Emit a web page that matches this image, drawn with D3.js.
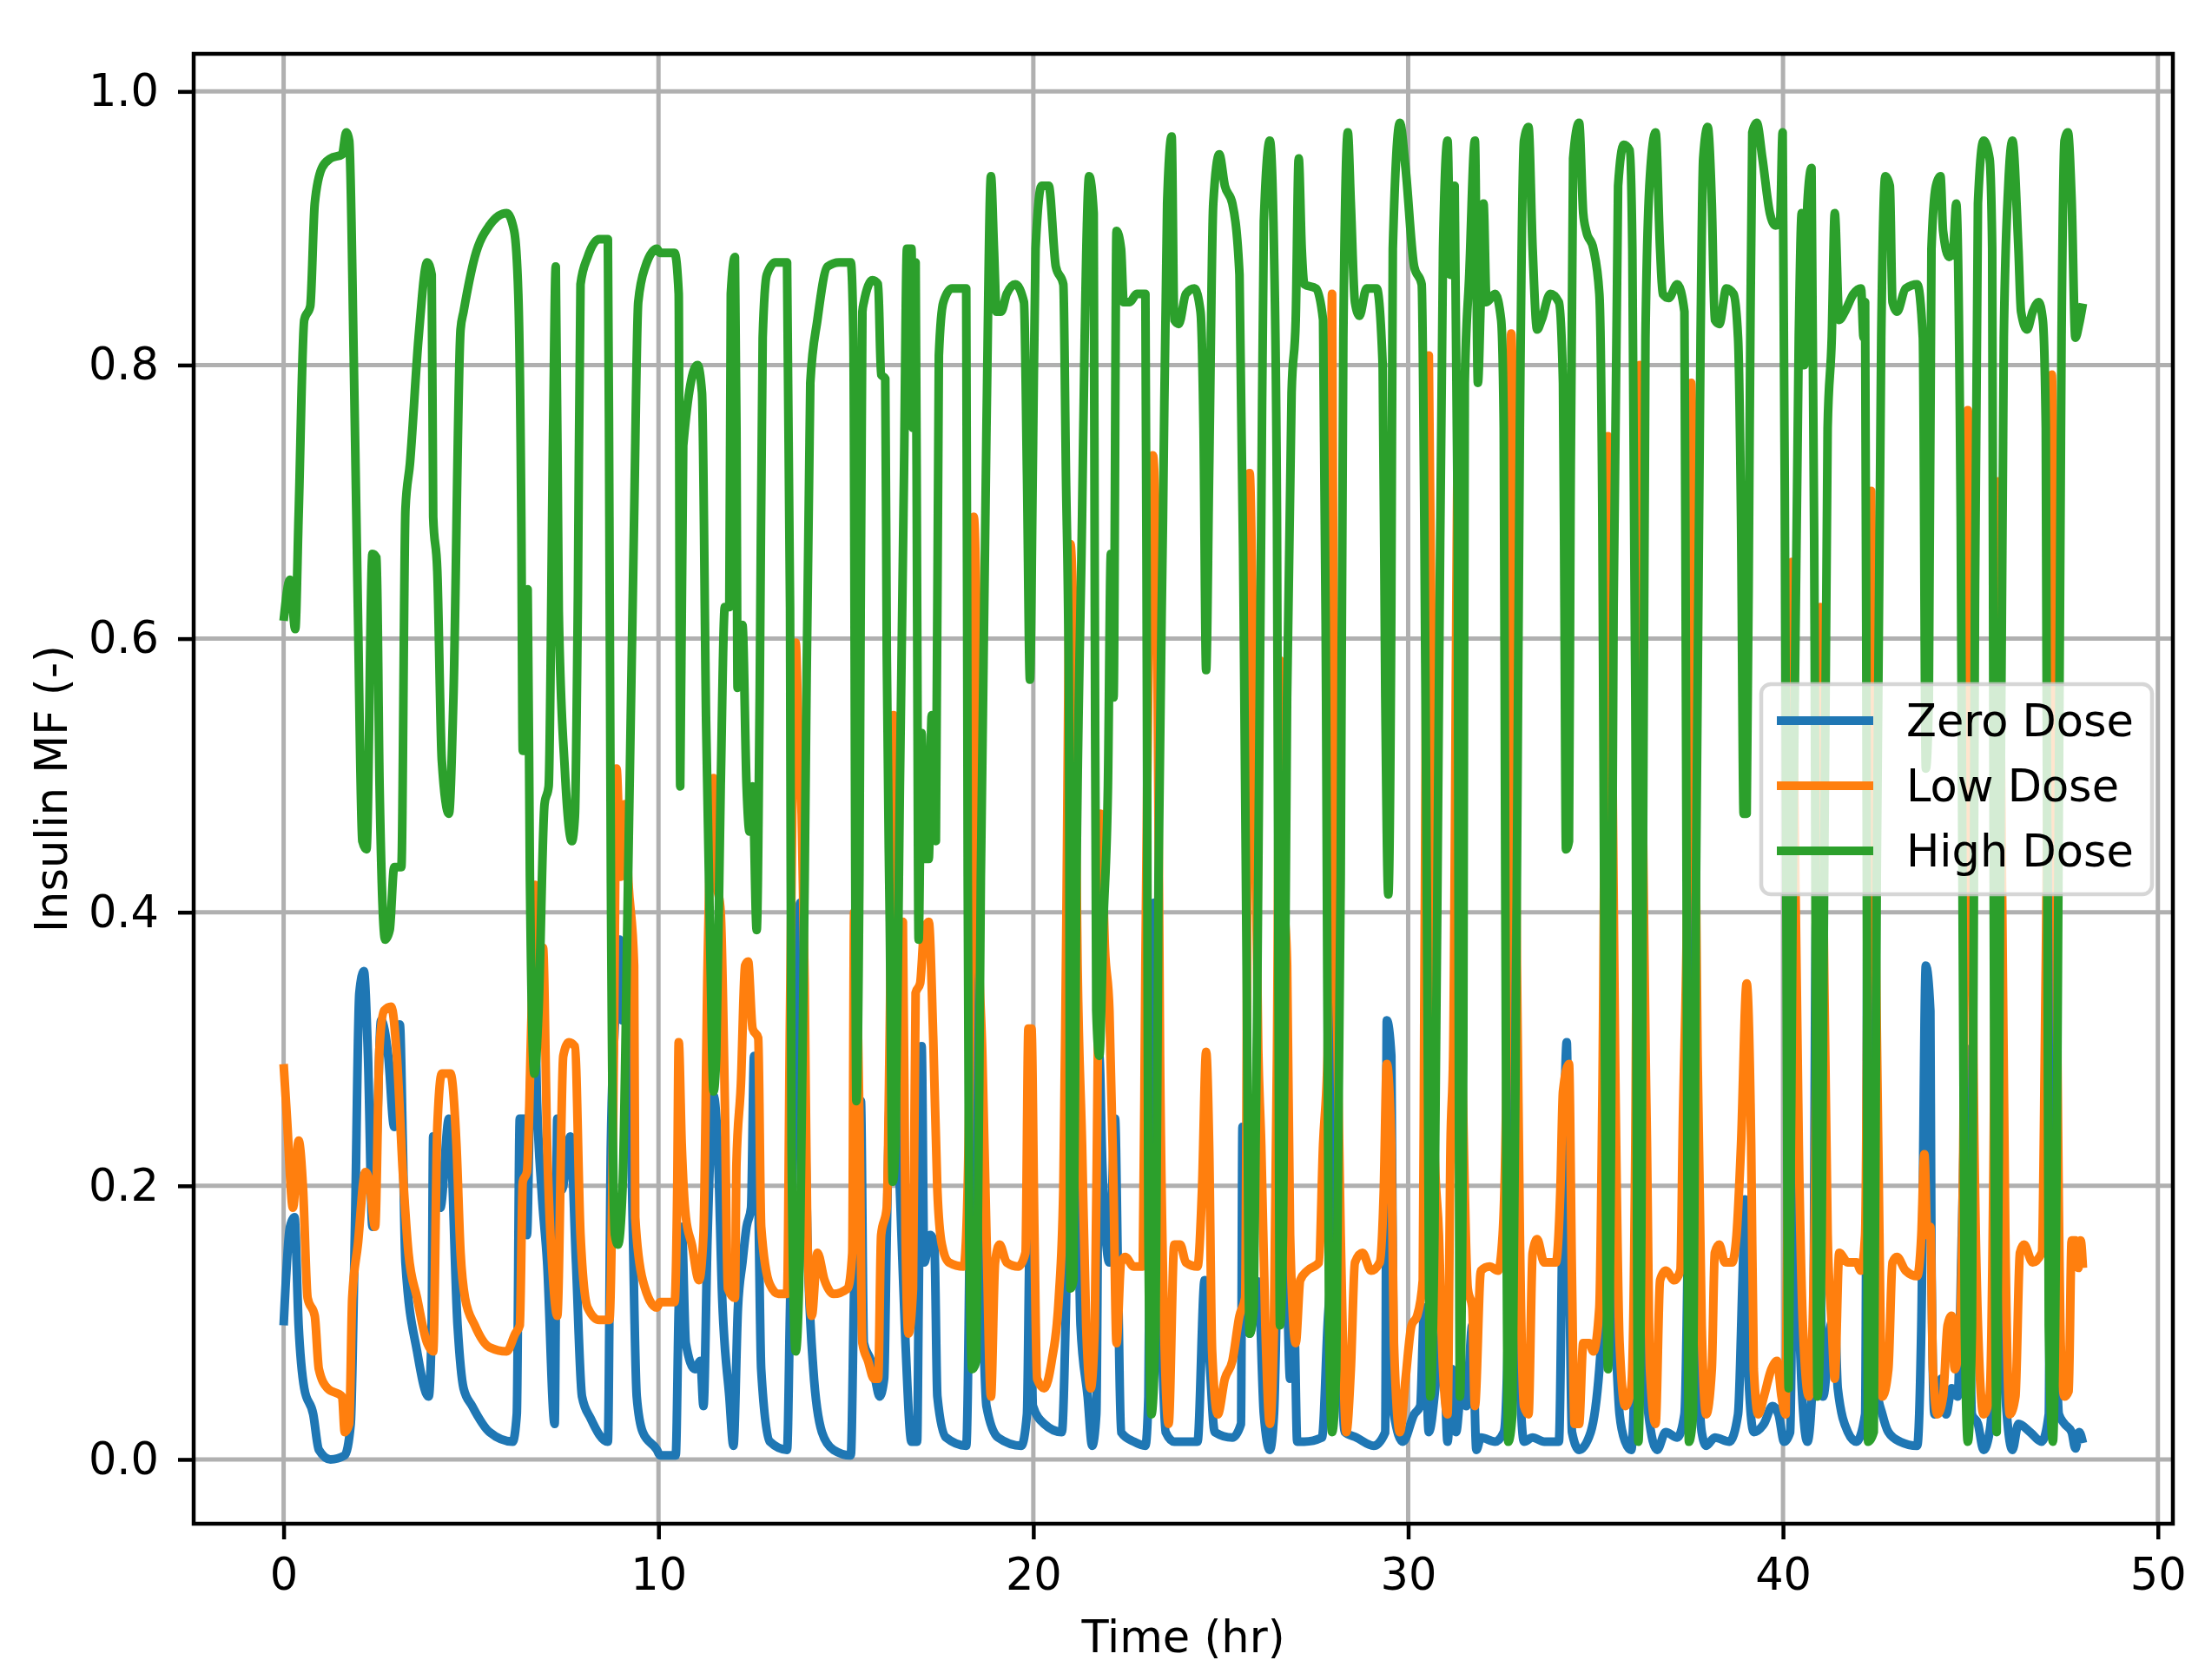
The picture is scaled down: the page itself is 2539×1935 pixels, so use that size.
<!DOCTYPE html>
<html>
  <head>
    <meta charset="utf-8">
    <script src="https://cdn.jsdelivr.net/npm/d3@7"></script>
    <style>
      body { margin: 0; background: white; }
      text { font-family: "DejaVu Sans", sans-serif; fill: black; }
    </style>
  </head>
  <body>
    <div id="my_dataviz"></div>

  <script>

    // [time (hr), insulin MF]
    let zeroDose = [
      [0,.098],[.17,.17],[.29,.177],[.4,.098],[.55,.052],[.79,.033],[.94,.007],[1.25,0],[1.63,.003],[1.79,.026],[1.9,.164],[2.02,.341],[2.14,.357],[2.25,.295],[2.37,.17],[2.48,.23],[2.6,.321],[2.79,.295],[2.95,.243],[3.1,.318],[3.18,.23],[3.25,.144],[3.56,.079],[3.87,.046],[3.95,.098],[3.99,.236],[4.18,.184],[4.41,.249],[4.64,.098],[4.8,.052],
      [5.03,.039],[5.49,.02],[6.11,.013],[6.22,.033],[6.3,.249],[6.42,.249],[6.49,.164],[6.57,.262],[6.69,.348],[6.76,.262],[6.88,.197],[7.03,.144],[7.23,.026],[7.3,.249],[7.42,.197],[7.65,.236],[7.8,.144],[7.96,.046],[8.19,.03],[8.65,.013],[8.73,.23],[8.84,.321],[8.96,.38],[9.04,.321],[9.11,.361],[9.27,.23],[9.42,.046],[9.58,.02],[9.96,.007],
      [10.04,.003],[10.46,.003],[10.54,.111],[10.62,.17],[10.73,.085],[10.97,.066],[11.12,.072],[11.2,.039],[11.31,.164],[11.47,.266],[11.58,.23],[11.7,.118],[11.89,.046],[12,.01],[12.12,.111],[12.24,.144],[12.35,.17],[12.47,.184],[12.55,.295],[12.66,.197],[12.74,.066],[12.97,.013],[13.43,.007],[13.51,.111],[13.66,.321],[13.78,.407],[13.86,.328],[13.97,.164],[14.13,.066],[14.36,.02],[14.67,.007],[15.13,.003],[15.22,.125],[15.32,.23],
      [15.4,.262],[15.48,.085],[15.67,.072],[15.78,.059],[15.9,.046],[16.02,.059],[16.09,.164],[16.17,.262],[16.32,.275],[16.44,.197],[16.59,.085],[16.75,.013],[16.9,.013],[16.94,.111],[17.02,.302],[17.09,.144],[17.25,.164],[17.36,.157],[17.44,.046],[17.67,.016],[18.21,.01],[18.33,.23],[18.41,.426],[18.48,.367],[18.52,.243],[18.6,.164],[18.75,.039],[19.06,.016],[19.68,.01],[19.83,.033],[19.91,.164],[19.99,.039],[20.29,.026],[20.76,.02],
      [20.87,.111],[20.95,.23],[21.03,.151],[21.14,.262],[21.26,.098],[21.45,.046],[21.57,.01],[21.68,.033],[21.76,.295],[21.84,.216],[22.03,.144],[22.18,.249],[22.26,.131],[22.34,.02],[22.68,.013],[22.99,.01],[23.07,.046],[23.15,.328],[23.22,.407],[23.3,.23],[23.42,.098],[23.53,.02],[23.76,.013],[24.07,.013],[24.38,.013],[24.57,.131],[24.69,.079],[24.84,.02],[25.31,.016],[25.54,.026],[25.58,.243],[25.69,.131],[25.77,.092],
      [26,.13],[26.15,.033],[26.31,.007],[26.42,.033],[26.54,.164],[26.66,.197],[26.77,.125],[26.85,.059],[26.96,.098],[27.04,.013],[27.23,.013],[27.7,.016],[27.85,.098],[27.97,.164],[28.02,.426],[28.08,.361],[28.2,.098],[28.31,.02],[28.62,.016],[29.08,.01],[29.39,.02],[29.43,.321],[29.55,.295],[29.62,.033],[29.86,.013],[30.16,.033],[30.32,.039],[30.43,.111],[30.55,.02],[30.78,.066],[30.93,.098],[31.05,.013],[31.17,.066],[31.28,.02],
      [31.4,.046],[31.55,.039],[31.71,.098],[31.82,.007],[31.94,.016],[32.32,.013],[32.55,.02],[32.71,.164],[32.77,.439],[32.82,.295],[32.94,.098],[33.09,.013],[33.32,.016],[33.63,.013],[34.02,.013],[34.13,.197],[34.23,.305],[34.29,.164],[34.37,.02],[34.56,.007],[34.87,.02],[35.1,.066],[35.18,.098],[35.33,.197],[35.45,.151],[35.52,.098],[35.64,.033],[35.79,.013],[35.95,.007],[36.1,.164],[36.18,.426],[36.25,.23],[36.41,.033],[36.64,.007],
      [36.87,.02],[37.18,.016],[37.37,.033],[37.49,.23],[37.57,.479],[37.6,.361],[37.72,.098],[37.83,.02],[37.95,.01],[38.18,.016],[38.57,.013],[38.8,.033],[38.92,.131],[38.99,.19],[39.07,.066],[39.22,.02],[39.49,.026],[39.72,.039],[39.88,.033],[40.03,.013],[40.19,.02],[40.3,.23],[40.42,.111],[40.5,.052],[40.65,.013],[40.8,.066],[40.88,.393],[40.96,.23],[41.07,.046],[41.27,.098],[41.38,.105],[41.46,.052],[41.73,.02],
      [41.96,.013],[42.19,.033],[42.28,.55],[42.31,.393],[42.38,.164],[42.5,.052],[42.65,.033],[42.81,.02],[43.12,.013],[43.58,.01],[43.69,.098],[43.81,.361],[43.93,.328],[43.96,.144],[44.04,.033],[44.23,.059],[44.35,.033],[44.5,.052],[44.66,.046],[44.77,.164],[44.9,.3],[45.04,.033],[45.2,.026],[45.35,.007],[45.51,.02],[45.62,.066],[45.74,.262],[45.82,.131],[45.97,.033],[46.12,.007],[46.28,.026],[46.59,.02],[46.9,.013],[47.09,.033],[47.17,.492],[47.24,.23],[47.36,.033],[47.51,.026],[47.7,.02],[47.8,.008],[47.9,.02],[48,.012]
    ];

    let lowDose = [
      [0,.289],[.09,.249],[.25,.184],[.4,.233],[.52,.197],[.64,.118],[.83,.105],[.94,.066],[1.17,.052],[1.56,.046],[1.63,.02],[1.75,.026],[1.83,.118],[1.98,.157],[2.18,.21],[2.29,.203],[2.44,.17],[2.56,.302],[2.68,.328],[2.87,.331],[3.02,.295],[3.18,.21],[3.33,.151],[3.56,.118],[3.83,.085],[3.99,.079],[4.1,.243],[4.22,.282],[4.45,.282],[4.61,.23],[4.72,.151],
      [4.84,.118],[5.1,.098],[5.49,.082],[5.95,.079],[6.18,.092],[6.3,.098],[6.38,.203],[6.49,.21],[6.61,.321],[6.71,.42],[6.8,.361],[6.92,.374],[7.03,.23],[7.19,.131],[7.3,.105],[7.46,.295],[7.61,.305],[7.77,.302],[7.92,.164],[8.11,.111],[8.42,.102],[8.69,.102],[8.81,.295],[8.88,.505],[9,.426],[9.11,.479],[9.19,.426],[9.35,.361],[9.38,.177],[9.58,.131],[9.96,.111],
      [10.04,.115],[10.43,.115],[10.5,.197],[10.54,.305],[10.62,.23],[10.73,.177],[10.89,.157],[11.08,.131],[11.2,.164],[11.31,.361],[11.47,.498],[11.54,.426],[11.66,.4],[11.77,.262],[11.85,.125],[12.04,.118],[12.08,.216],[12.2,.275],[12.31,.361],[12.39,.364],[12.51,.315],[12.66,.308],[12.74,.17],[12.97,.128],[13.2,.121],[13.43,.121],[13.51,.328],[13.66,.597],[13.74,.525],[13.82,.472],[13.9,.348],[13.97,.164],[14.09,.105],[14.24,.151],[14.43,.131],[14.67,.121],[15.05,.125],[15.17,.151],[15.22,.4],
      [15.36,.25],[15.44,.085],[15.59,.072],[15.75,.059],[15.86,.059],[15.94,.164],[16.09,.184],[16.17,.315],[16.27,.544],[16.32,.426],[16.4,.295],[16.52,.393],[16.59,.164],[16.67,.092],[16.79,.125],[16.86,.341],[16.98,.348],[17.09,.387],[17.21,.393],[17.33,.308],[17.44,.197],[17.56,.157],[17.75,.144],[18.14,.141],[18.21,.164],[18.33,.361],[18.41,.689],[18.48,.623],[18.52,.407],[18.64,.295],[18.75,.164],[18.87,.046],[18.98,.144],[19.1,.157],[19.29,.144],[19.6,.141],[19.79,.151],[19.87,.315],[19.95,.315],[20.03,.164],[20.1,.059],[20.29,.052],[20.49,.072],[20.68,.118],
      [20.8,.197],[20.87,.361],[20.99,.669],[21.1,.557],[21.18,.361],[21.3,.23],[21.41,.098],[21.53,.052],[21.64,.098],[21.72,.295],[21.8,.472],[21.91,.374],[22.03,.328],[22.14,.197],[22.22,.085],[22.34,.144],[22.45,.148],[22.68,.141],[22.92,.141],[22.99,.361],[23.19,.734],[23.3,.623],[23.38,.295],[23.49,.098],[23.61,.026],[23.76,.157],[23.92,.157],[24.07,.144],[24.38,.141],[24.5,.197],[24.61,.298],[24.69,.23],[24.77,.079],[24.92,.033],[25.11,.059],[25.31,.072],[25.5,.105],[25.65,.118],[25.77,.721],[25.88,.557],
      [26,.3],[26.08,.23],[26.19,.098],[26.31,.026],[26.42,.098],[26.5,.295],[26.58,.584],[26.66,.426],[26.77,.361],[26.85,.164],[27,.085],[27.12,.131],[27.31,.138],[27.62,.144],[27.73,.23],[27.85,.295],[27.97,.852],[28.02,.505],[28.08,.361],[28.2,.164],[28.35,.02],[28.47,.066],[28.58,.144],[28.78,.151],[29.01,.138],[29.24,.144],[29.35,.197],[29.43,.289],[29.55,.23],[29.62,.085],[29.78,.02],[29.93,.059],[30.09,.098],[30.24,.105],[30.39,.131],[30.43,.328],[30.55,.807],[30.63,.557],[30.7,.23],[30.82,.164],[30.93,.066],[31.05,.033],[31.13,.23],[31.2,.295],[31.34,.76],[31.4,.361],[31.47,.25],
      [31.59,.125],[31.71,.111],[31.78,.039],[31.94,.138],[32.17,.141],[32.4,.138],[32.52,.164],[32.63,.295],[32.75,.823],[32.82,.689],[32.9,.361],[32.98,.164],[33.09,.039],[33.21,.033],[33.32,.151],[33.44,.161],[33.63,.144],[33.94,.144],[34.06,.197],[34.13,.269],[34.29,.289],[34.37,.131],[34.44,.026],[34.56,.026],[34.67,.085],[34.83,.085],[34.94,.079],[35.1,.111],[35.18,.262],[35.33,.748],[35.41,.623],[35.52,.295],[35.64,.085],[35.79,.039],[35.95,.052],[36.06,.23],[36.18,.8],[36.25,.492],[36.37,.23],[36.45,.066],[36.6,.026],
      [36.72,.131],[36.87,.138],[37.1,.131],[37.26,.138],[37.33,.249],[37.45,.426],[37.55,.787],[37.63,.557],[37.72,.295],[37.83,.098],[37.95,.033],[38.1,.066],[38.18,.151],[38.3,.157],[38.45,.144],[38.64,.144],[38.76,.164],[38.88,.23],[39.03,.348],[39.15,.23],[39.22,.066],[39.34,.033],[39.49,.046],[39.69,.066],[39.84,.072],[39.96,.046],[40.07,.033],[40.15,.295],[40.23,.656],[40.3,.492],[40.42,.23],[40.53,.098],[40.69,.046],[40.84,.164],[40.99,.623],[41.07,.426],[41.19,.164],[41.3,.098],[41.38,.059],[41.5,.151],[41.73,.144],[41.96,.144],
      [42.08,.138],[42.19,.164],[42.35,.708],[42.42,.492],[42.54,.23],[42.65,.046],[42.81,.066],[42.92,.144],[43.04,.148],[43.27,.138],[43.58,.134],[43.69,.164],[43.77,.223],[43.85,.164],[43.93,.17],[44,.066],[44.12,.033],[44.27,.046],[44.39,.098],[44.5,.105],[44.58,.066],[44.7,.085],[44.81,.23],[44.93,.767],[45.01,.557],[45.08,.295],[45.2,.098],[45.35,.033],[45.51,.046],[45.62,.23],[45.74,.715],[45.82,.492],[45.93,.164],[46.05,.033],[46.2,.046],[46.32,.151],[46.43,.157],[46.66,.144],[46.9,.151],[47.01,.361],[47.17,.793],[47.24,.623],[47.32,.295],[47.43,.066],[47.51,.046],[47.62,.05],[47.7,.16],[47.8,.16],[47.88,.14],[47.94,.16],[48,.14]
    ];

    let highDose = [
      [0,.613],[.17,.643],[.31,.607],[.4,.69],[.55,.833],[.71,.843],[.83,.918],[1.02,.944],[1.25,.951],[1.56,.954],[1.67,.97],[1.75,.964],[1.87,.806],[1.98,.623],[2.1,.452],[2.21,.446],[2.37,.662],[2.48,.659],[2.56,.492],[2.71,.38],[2.83,.387],[2.95,.433],[3.14,.433],[3.25,.695],[3.37,.728],[3.6,.82],[3.83,.875],[3.95,.866],[3.99,.689],[4.1,.649],[4.22,.511],[4.41,.472],[4.53,.557],[4.72,.826],
      [4.8,.839],[5.1,.879],[5.49,.902],[5.95,.911],[6.15,.898],[6.26,.852],[6.34,.689],[6.38,.518],[6.45,.518],[6.51,.636],[6.57,.426],[6.69,.282],[6.8,.328],[6.96,.479],[7.07,.492],[7.19,.754],[7.26,.872],[7.34,.62],[7.5,.505],[7.69,.452],[7.77,.47],[7.85,.63],[7.92,.859],[8.11,.879],[8.42,.892],[8.65,.892],[8.69,.689],[8.73,.426],[8.84,.164],[8.92,.157],[9.04,.197],[9.19,.426],[9.35,.689],[9.46,.846],[9.65,.872],[9.96,.885],
      [10.04,.882],[10.43,.882],[10.54,.852],[10.58,.492],[10.66,.741],[11.04,.8],[11.16,.78],[11.27,.54],[11.39,.361],[11.47,.269],[11.54,.295],[11.66,.492],[11.77,.623],[11.89,.623],[11.93,.852],[12.04,.879],[12.08,.754],[12.11,.564],[12.24,.61],[12.35,.492],[12.43,.459],[12.51,.492],[12.62,.387],[12.7,.557],[12.78,.82],[12.89,.866],[13.12,.875],[13.43,.875],[13.51,.623],[13.55,.23],[13.66,.079],[13.78,.164],[13.9,.426],[14.05,.787],[14.24,.833],[14.51,.872],[14.82,.875],[15.13,.875],[15.2,.82],[15.28,.262],[15.36,.426],[15.44,.839],
      [15.48,.846],[15.71,.862],[15.86,.859],[15.94,.793],[16.05,.79],[16.09,.59],[16.17,.393],[16.25,.203],[16.32,.23],[16.44,.492],[16.55,.721],[16.63,.885],[16.75,.885],[16.79,.754],[16.86,.875],[16.9,.623],[16.94,.38],[17.02,.531],[17.09,.439],[17.21,.439],[17.29,.544],[17.4,.452],[17.48,.807],[17.6,.846],[17.83,.856],[18.21,.856],[18.25,.426],[18.29,.164],[18.37,.066],[18.48,.072],[18.6,.426],[18.75,.754],[18.87,.938],[18.95,.885],[19.02,.839],[19.14,.839],[19.29,.852],[19.52,.859],[19.75,.846],[19.83,.721],[19.91,.57],[19.99,.734],[20.06,.885],[20.22,.931],[20.41,.931],[20.6,.872],[20.8,.859],
      [20.87,.721],[20.95,.557],[20.99,.125],[21.07,.131],[21.14,.393],[21.3,.689],[21.37,.82],[21.49,.938],[21.61,.911],[21.64,.623],[21.68,.328],[21.76,.295],[21.87,.393],[21.99,.492],[22.07,.662],[22.14,.557],[22.22,.898],[22.34,.885],[22.41,.846],[22.57,.846],[22.76,.852],[22.99,.852],[23.03,.557],[23.07,.164],[23.15,.033],[23.26,.098],[23.34,.426],[23.46,.689],[23.57,.918],[23.69,.967],[23.76,.833],[23.88,.83],[24.07,.852],[24.3,.856],[24.46,.839],[24.54,.754],[24.61,.577],[24.69,.721],[24.8,.918],[24.96,.954],[25.11,.931],[25.31,.918],[25.5,.866],[25.61,.623],[25.69,.361],[25.77,.092],[25.88,.111],[26,.426],[26.08,.689],[26.15,.905],
      [26.31,.964],[26.42,.885],[26.5,.689],[26.54,.361],[26.58,.098],[26.66,.164],[26.77,.557],[26.89,.78],[27,.833],[27.08,.951],[27.16,.885],[27.23,.859],[27.54,.856],[27.73,.833],[27.81,.557],[27.89,.098],[27.97,.02],[28.08,.066],[28.2,.426],[28.27,.82],[28.39,.97],[28.47,.918],[28.58,.846],[28.7,.836],[28.89,.856],[29.16,.856],[29.32,.8],[29.39,.557],[29.47,.413],[29.55,.623],[29.59,.885],[29.78,.977],[29.93,.944],[30.16,.872],[30.36,.859],[30.43,.689],[30.51,.361],[30.59,.046],[30.7,.164],[30.82,.557],[30.93,.885],[31.05,.964],[31.13,.866],[31.24,.931],[31.32,.689],[31.38,.046],[31.47,.295],
      [31.51,.787],[31.63,.866],[31.78,.964],[31.86,.787],[31.94,.852],[32.01,.918],[32.09,.846],[32.32,.852],[32.48,.833],[32.55,.754],[32.59,.426],[32.67,.013],[32.78,.033],[32.9,.426],[32.98,.754],[33.09,.964],[33.21,.974],[33.32,.885],[33.44,.826],[33.56,.833],[33.79,.852],[34.02,.846],[34.13,.787],[34.17,.623],[34.21,.446],[34.29,.452],[34.33,.689],[34.4,.951],[34.56,.977],[34.67,.911],[34.75,.898],[34.94,.885],[35.1,.852],[35.18,.689],[35.25,.295],[35.33,.066],[35.41,.23],[35.48,.623],[35.6,.931],[35.75,.961],[35.91,.957],[35.98,.885],[36.06,.557],[36.14,.013],[36.22,.164],[36.33,.82],[36.45,.938],[36.6,.97],
      [36.72,.885],[36.79,.852],[36.95,.849],[37.18,.859],[37.37,.839],[37.41,.557],[37.49,.013],[37.6,.033],[37.68,.426],[37.8,.82],[37.87,.951],[37.99,.974],[38.1,.918],[38.18,.833],[38.3,.83],[38.49,.856],[38.68,.852],[38.8,.82],[38.88,.689],[38.95,.472],[39.03,.472],[39.11,.754],[39.18,.97],[39.3,.977],[39.45,.951],[39.65,.911],[39.8,.902],[39.92,.905],[39.99,.97],[40.07,.557],[40.15,.052],[40.26,.426],[40.42,.82],[40.5,.911],[40.57,.8],[40.65,.918],[40.76,.944],[40.84,.623],[40.92,.046],[41.03,.164],[41.19,.754],[41.3,.82],[41.38,.911],[41.5,.833],[41.65,.839],[41.88,.852],[42.08,.856],[42.15,.82],
      [42.19,.846],[42.23,.492],[42.27,.013],[42.42,.02],[42.5,.426],[42.62,.82],[42.73,.938],[42.85,.931],[42.92,.846],[43.04,.839],[43.27,.856],[43.58,.859],[43.73,.82],[43.81,.505],[43.89,.557],[43.96,.885],[44.08,.931],[44.2,.938],[44.27,.898],[44.43,.879],[44.54,.885],[44.62,.918],[44.74,.689],[44.85,.098],[44.93,.013],[45.04,.098],[45.12,.623],[45.2,.918],[45.35,.964],[45.51,.951],[45.58,.885],[45.62,.426],[45.7,.02],[45.78,.361],[45.89,.82],[46.01,.931],[46.12,.964],[46.28,.885],[46.35,.839],[46.51,.826],[46.66,.839],[46.82,.846],[46.93,.833],[47.01,.754],[47.09,.098],[47.2,.013],[47.32,.295],[47.43,.82],[47.51,.964],[47.6,.97],[47.7,.92],[47.8,.82],[47.9,.83],[48,.845]
    ];

    let seriesNames = ["Zero Dose", "Low Dose", "High Dose"];
    let seriesColors = ["#1f77b4", "#ff7f0e", "#2ca02c"];
    let xTicks = [0, 10, 20, 30, 40, 50];
    let yTicks = [0, 0.2, 0.4, 0.6, 0.8, 1.0];

    let W = 2539, H = 1935;
    let margin = {top: 62, right: W - 2502, bottom: H - 1755, left: 223},
        width = W - margin.left - margin.right,
        height = H - margin.top - margin.bottom;

    let svg = d3.select("#my_dataviz")
                .append("svg")
                  .attr("width", W)
                  .attr("height", H)
                .append("g")
                  .attr("transform", "translate(" + margin.left + "," + margin.top + ")");

    let x = d3.scaleLinear().domain([-2.4, 50.4]).range([0, width]);
    let y = d3.scaleLinear().domain([-0.047, 1.0275]).range([height, 0]);

    // grid
    svg.append("g").selectAll("line")
       .data(xTicks).enter().append("line")
         .attr("x1", d => x(d)).attr("x2", d => x(d))
         .attr("y1", 0).attr("y2", height)
         .attr("stroke", "#b0b0b0").attr("stroke-width", 5);

    svg.append("g").selectAll("line")
       .data(yTicks).enter().append("line")
         .attr("x1", 0).attr("x2", width)
         .attr("y1", d => y(d)).attr("y2", d => y(d))
         .attr("stroke", "#b0b0b0").attr("stroke-width", 5);

    // lines
    let line = d3.line()
                 .curve(d3.curveMonotoneX)
                 .x(d => x(d[0]))
                 .y(d => y(d[1]));

    [zeroDose, lowDose, highDose].forEach(function(data, i) {
        svg.append("path")
           .datum(data)
           .attr("fill", "none")
           .attr("stroke", seriesColors[i])
           .attr("stroke-width", 10)
           .attr("stroke-linejoin", "round")
           .attr("d", line);
    });

    // axes
    let xAxis = svg.append("g")
       .attr("transform", "translate(0," + height + ")")
       .call(d3.axisBottom(x).tickValues(xTicks).tickFormat(d3.format("d")).tickSize(18).tickPadding(22));

    let yAxis = svg.append("g")
       .call(d3.axisLeft(y).tickValues(yTicks).tickFormat(d3.format(".1f")).tickSize(18).tickPadding(22));

    [xAxis, yAxis].forEach(function(a) {
        a.select(".domain").remove();
        a.selectAll(".tick line").attr("stroke", "black").attr("stroke-width", 4.5);
        a.selectAll(".tick text")
         .style("font-family", "'DejaVu Sans', sans-serif")
         .style("font-size", "51px")
         .attr("fill", "black");
    });

    svg.append("rect")
       .attr("x", 0).attr("y", 0)
       .attr("width", width).attr("height", height)
       .attr("fill", "none")
       .attr("stroke", "black")
       .attr("stroke-width", 4.5);

    // labels
    svg.append("text")
       .attr("x", width / 2)
       .attr("y", 1903 - margin.top)
       .attr("text-anchor", "middle")
       .style("font-size", "51px")
       .text("Time (hr)");

    svg.append("text")
       .attr("transform", "translate(" + (77 - margin.left) + "," + (height / 2) + ") rotate(-90)")
       .attr("text-anchor", "middle")
       .style("font-size", "51px")
       .text("Insulin MF (-)");

    // legend
    let legend = svg.append("g")
       .attr("transform", "translate(" + (2028 - margin.left) + "," + (788 - margin.top) + ")");

    legend.append("rect")
       .attr("width", 450).attr("height", 242)
       .attr("rx", 11).attr("ry", 11)
       .attr("fill", "white").attr("fill-opacity", 0.8)
       .attr("stroke", "#cccccc").attr("stroke-opacity", 0.8)
       .attr("stroke-width", 4.5);

    seriesNames.forEach(function(name, i) {
        let ly = 42 + i * 75;
        legend.append("line")
           .attr("x1", 18).attr("x2", 129)
           .attr("y1", ly).attr("y2", ly)
           .attr("stroke", seriesColors[i])
           .attr("stroke-width", 10);
        legend.append("text")
           .attr("x", 167)
           .attr("y", ly + 18)
           .style("font-size", "51px")
           .text(name);
    });

  </script>
  </body>
</html>
